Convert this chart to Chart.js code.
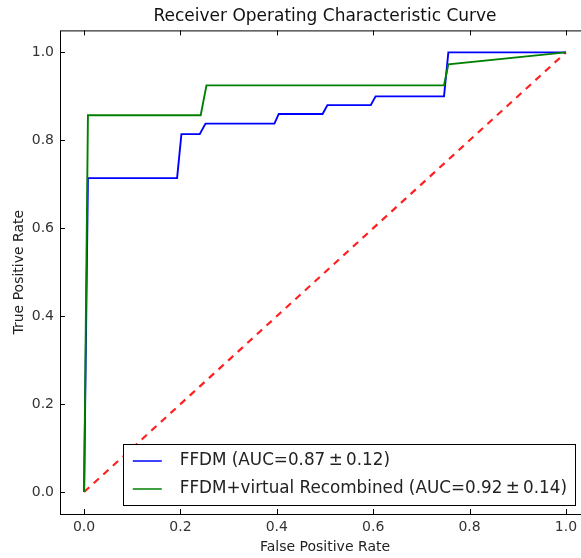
<!DOCTYPE html>
<html>
<head>
<meta charset="utf-8">
<script src="https://cdn.jsdelivr.net/npm/chart.js@4/dist/chart.umd.min.js"></script>
<style>
  html, body { margin: 0; padding: 0; background: #fff; overflow: hidden; }
  #wrap { width: 610px; height: 558px; }
</style>
</head>
<body>
<div id="wrap"><canvas id="roc"></canvas></div>
<script>
// values
const ffdmX = [0, 0.008, 0.193, 0.202, 0.24, 0.252, 0.395, 0.404, 0.495, 0.505, 0.595, 0.605, 0.747, 0.756, 1.0];
const ffdmY = [0, 0.714, 0.714, 0.814, 0.814, 0.838, 0.838, 0.86, 0.86, 0.88, 0.88, 0.9, 0.9, 1.0, 1.0];
const virtX = [0, 0.008, 0.242, 0.254, 0.747, 0.756, 1.0];
const virtY = [0, 0.857, 0.857, 0.925, 0.925, 0.973, 1.0];
const chanceX = [0, 1];
const chanceY = [0, 1];
const tickVals = [0, 0.2, 0.4, 0.6, 0.8, 1.0];
const labels = ['FFDM (AUC=0.87\u2009\u00b1\u20090.12)', 'FFDM+virtual Recombined (AUC=0.92\u2009\u00b1\u20090.14)'];

const pts = (xs, ys) => xs.map((x, i) => ({x: x, y: ys[i]}));
const FONT = "'DejaVu Sans', sans-serif";

// matplotlib-ish frame with inward ticks on all four sides
const framePlugin = {
  id: 'frame',
  afterDraw(chart) {
    const {ctx, chartArea: a, scales} = chart;
    ctx.save();
    ctx.strokeStyle = '#000';
    ctx.lineWidth = 1;
    ctx.strokeRect(a.left + 0.5, a.top + 0.5, a.right - a.left, a.bottom - a.top);
    ctx.beginPath();
    tickVals.forEach(v => {
      const px = Math.round(scales.x.getPixelForValue(v)) + 0.5;
      ctx.moveTo(px, a.bottom); ctx.lineTo(px, a.bottom - 5);
      ctx.moveTo(px, a.top); ctx.lineTo(px, a.top + 5);
      const py = Math.round(scales.y.getPixelForValue(v)) + 0.5;
      ctx.moveTo(a.left, py); ctx.lineTo(a.left + 5, py);
      ctx.moveTo(a.right, py); ctx.lineTo(a.right - 5, py);
    });
    ctx.stroke();
    ctx.restore();
  }
};

// legend box in the lower right corner of the axes
const legendPlugin = {
  id: 'boxLegend',
  afterDraw(chart) {
    const {ctx, chartArea: a} = chart;
    const sets = chart.data.datasets.filter(d => d.label);
    ctx.save();
    ctx.font = '16.8px ' + FONT;
    const textW = Math.max(...sets.map(d => ctx.measureText(d.label).width));
    const rowH = 28;
    const w = 57 + textW + 8;
    const h = sets.length * rowH + 5;
    const right = 575, bottom = a.bottom - 9;
    const left = right - w, top = bottom - h;
    ctx.fillStyle = '#fff';
    ctx.fillRect(left, top, w, h);
    ctx.strokeStyle = '#000';
    ctx.lineWidth = 1;
    ctx.strokeRect(Math.round(left) + 0.5, Math.round(top) + 0.5, Math.round(w), Math.round(h));
    sets.forEach((d, i) => {
      const y = top + 17 + i * rowH;
      ctx.strokeStyle = d.borderColor;
      ctx.lineWidth = 1.5;
      ctx.beginPath();
      ctx.moveTo(left + 10, y); ctx.lineTo(left + 39, y);
      ctx.stroke();
      ctx.fillStyle = '#222';
      ctx.textBaseline = 'middle';
      ctx.fillText(d.label, left + 57, y);
    });
    ctx.restore();
  }
};

new Chart(document.getElementById('roc'), {
  type: 'line',
  data: {
    datasets: [
      {label: '', data: pts(chanceX, chanceY), borderColor: '#ff2020', borderWidth: 2.2, borderDash: [7, 6], order: 3},
      {label: labels[0], data: pts(ffdmX, ffdmY), borderColor: '#0000ff', borderWidth: 1.9, order: 2},
      {label: labels[1], data: pts(virtX, virtY), borderColor: '#008000', borderWidth: 1.9, order: 1}
    ]
  },
  options: {
    responsive: true,
    maintainAspectRatio: false,
    animation: false,
    elements: { point: { radius: 0 }, line: { tension: 0, fill: false } },
    layout: { padding: { left: 0, right: 20, top: 0, bottom: 0 } },
    plugins: {
      legend: { display: false },
      tooltip: { enabled: false },
      title: {
        display: true,
        fullSize: false,
        text: 'Receiver Operating Characteristic Curve',
        color: '#111',
        font: { family: FONT, size: 17, weight: 'normal' },
        padding: { top: 6, bottom: 4 }
      }
    },
    scales: {
      x: {
        type: 'linear',
        min: -0.05, max: 1.05,
        afterBuildTicks: s => { s.ticks = tickVals.map(v => ({value: v})); },
        afterFit: s => { s.height = 44; },
        grid: { display: false, drawTicks: false },
        border: { display: false },
        ticks: { color: '#333', padding: 5, font: { family: FONT, size: 14 }, callback: v => v.toFixed(1) },
        title: { display: true, text: 'False Positive Rate', color: '#222', font: { family: FONT, size: 14 }, padding: { top: 0, bottom: 2 } }
      },
      y: {
        type: 'linear',
        min: -0.05, max: 1.05,
        afterBuildTicks: s => { s.ticks = tickVals.map(v => ({value: v})); },
        afterFit: s => { s.width = 60; },
        grid: { display: false, drawTicks: false },
        border: { display: false },
        ticks: { color: '#333', padding: 6, font: { family: FONT, size: 14 }, callback: v => v.toFixed(1) },
        title: { display: true, text: 'True Positive Rate', color: '#222', font: { family: FONT, size: 14 }, padding: { top: 11, bottom: 0 } }
      }
    }
  },
  plugins: [framePlugin, legendPlugin]
});
</script>
</body>
</html>
